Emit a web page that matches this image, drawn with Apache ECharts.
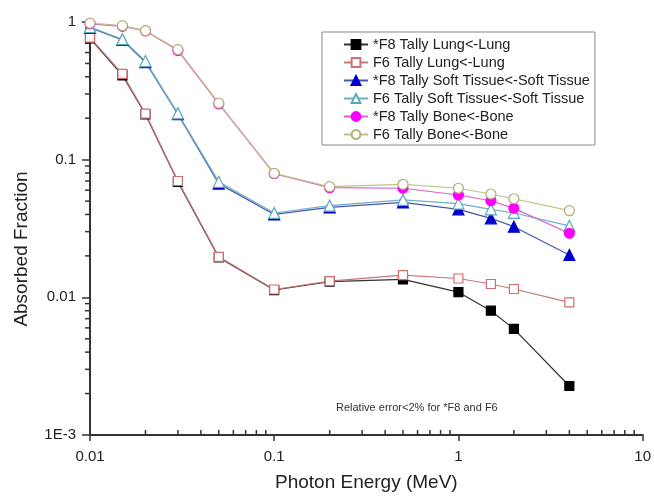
<!DOCTYPE html>
<html>
<head>
<meta charset="utf-8">
<script src="https://cdn.jsdelivr.net/npm/echarts@6/dist/echarts.min.js"></script>
<style>
  html, body { margin: 0; padding: 0; background: #fff; }
  #main { width: 654px; height: 497px; }
</style>
</head>
<body>
<div id="main"></div>
<script>
var myChart = echarts.init(document.getElementById('main'));

// photon energy (MeV)
var energy = [0.01, 0.015, 0.02, 0.03, 0.05, 0.1, 0.2, 0.5, 1, 1.5, 2, 4];

var f8Lung = [0.76, 0.41, 0.213, 0.069, 0.0195, 0.0113, 0.0130, 0.0135, 0.0109, 0.0080, 0.0059, 0.00227];
var f6Lung = [0.77, 0.42, 0.216, 0.070, 0.0197, 0.0114, 0.0131, 0.0145, 0.0137, 0.0125, 0.0115, 0.0092];
var f8Soft = [0.91, 0.74, 0.51, 0.214, 0.067, 0.040, 0.045, 0.049, 0.0436, 0.0375, 0.0326, 0.0203];
var f6Soft = [0.92, 0.75, 0.52, 0.217, 0.069, 0.041, 0.0463, 0.051, 0.048, 0.0436, 0.041, 0.033];
var f8Bone = [0.97, 0.93, 0.86, 0.62, 0.254, 0.079, 0.0626, 0.062, 0.0554, 0.0503, 0.0443, 0.0292];
var f6Bone = [0.98, 0.94, 0.865, 0.63, 0.257, 0.0796, 0.0636, 0.0662, 0.062, 0.0563, 0.052, 0.0426];

// minor tick positions (log axes)
var xMinorTicks = [0.02, 0.03, 0.04, 0.05, 0.06, 0.07, 0.08, 0.09,
                   0.2, 0.3, 0.4, 0.5, 0.6, 0.7, 0.8, 0.9,
                   2, 3, 4, 5, 6, 7, 8, 9];
var yMinorTicks = [0.002, 0.003, 0.004, 0.005, 0.006, 0.007, 0.008, 0.009,
                   0.02, 0.03, 0.04, 0.05, 0.06, 0.07, 0.08, 0.09,
                   0.2, 0.3, 0.4, 0.5, 0.6, 0.7, 0.8, 0.9];

function pairs(ys) {
  return energy.map(function (x, i) { return [x, ys[i]]; });
}

function mkSeries(name, ys, symbol, size, lineColor, fill, border) {
  return {
    name: name,
    type: 'line',
    data: pairs(ys),
    symbol: symbol,
    symbolSize: size,
    showAllSymbol: true,
    clip: false,
    lineStyle: { color: lineColor, width: 1.2 },
    itemStyle: { color: fill, borderColor: border, borderWidth: 1.2 },
    emphasis: { disabled: true }
  };
}

var option = {
  animation: false,
  textStyle: { fontFamily: 'Liberation Sans, Arial, sans-serif' },
  grid: { left: 90, right: 10, top: 22, bottom: 62 },
  legend: {
    orient: 'vertical',
    left: 322,
    top: 32,
    padding: [5, 5, 3, 21],
    itemGap: 3.0,
    itemWidth: 24,
    itemHeight: 11,
    borderColor: '#888',
    borderWidth: 1,
    textStyle: { fontSize: 14.5, color: '#222', lineHeight: 14.4 },
    data: ['*F8 Tally Lung<-Lung', 'F6 Tally Lung<-Lung',
           '*F8 Tally Soft Tissue<-Soft Tissue', 'F6 Tally Soft Tissue<-Soft Tissue',
           '*F8 Tally Bone<-Bone', 'F6 Tally Bone<-Bone']
  },
  xAxis: {
    type: 'log',
    logBase: 10,
    min: 0.01,
    max: 10,
    name: 'Photon Energy (MeV)',
    nameLocation: 'middle',
    nameGap: 38,
    nameTextStyle: { fontSize: 19, color: '#222' },
    axisLine: { lineStyle: { color: '#333', width: 2 } },
    axisTick: { length: 6, lineStyle: { color: '#333', width: 1.5 } },
    axisLabel: { fontSize: 15, color: '#222', margin: 14,
      formatter: function (v) { return String(+v.toPrecision(3)); } },
    splitLine: { show: false }
  },
  yAxis: {
    type: 'log',
    logBase: 10,
    min: 0.001,
    max: 1,
    axisLine: { lineStyle: { color: '#333', width: 2 } },
    axisTick: { length: 8, lineStyle: { color: '#333', width: 1.5 } },
    axisLabel: { fontSize: 15, color: '#222', margin: 14,
      formatter: function (v) {
        if (Math.abs(v - 0.001) < 1e-9) return '1E-3';
        return String(+v.toPrecision(3));
      } },
    splitLine: { show: false }
  },
  graphic: [
    {
      type: 'text',
      x: 22, y: 249,
      rotation: Math.PI / 2,
      style: { text: 'Absorbed Fraction', fontSize: 19, fill: '#222',
               fontFamily: 'Liberation Sans, Arial, sans-serif',
               textAlign: 'center', textVerticalAlign: 'middle' }
    },
    {
      type: 'text',
      left: 336, top: 402,
      style: { text: 'Relative error<2% for *F8 and F6', fontSize: 11, fill: '#333',
               fontFamily: 'Liberation Sans, Arial, sans-serif' }
    }
  ],
  series: [
    mkSeries('*F8 Tally Lung<-Lung', f8Lung, 'rect', 9, '#333', '#000', '#000'),
    mkSeries('F6 Tally Lung<-Lung', f6Lung, 'rect', 9, '#c87575', '#fff', '#d07070'),
    mkSeries('*F8 Tally Soft Tissue<-Soft Tissue', f8Soft, 'triangle', 11, '#4455b0', '#0000cc', '#0000cc'),
    mkSeries('F6 Tally Soft Tissue<-Soft Tissue', f6Soft, 'triangle', 11, '#6fb0be', '#fff', '#5aa8b8'),
    mkSeries('*F8 Tally Bone<-Bone', f8Bone, 'circle', 10, '#d860c8', '#ff00ff', '#ff00ff'),
    mkSeries('F6 Tally Bone<-Bone', f6Bone, 'circle', 10, '#c2c088', '#fff', '#b0ae70'),
    {
      // minor ticks on x axis (pointing inward)
      type: 'custom',
      clip: false,
      silent: true,
      data: xMinorTicks,
      renderItem: function (params, api) {
        var p = api.coord([api.value(0), 0.001]);
        return { type: 'line', shape: { x1: p[0], y1: p[1], x2: p[0], y2: p[1] - 5 },
                 style: { stroke: '#333', lineWidth: 1.5 } };
      },
      encode: { x: 0 }
    },
    {
      // minor ticks on y axis (pointing outward)
      type: 'custom',
      clip: false,
      silent: true,
      data: yMinorTicks,
      renderItem: function (params, api) {
        var p = api.coord([0.01, api.value(0)]);
        return { type: 'line', shape: { x1: p[0], y1: p[1], x2: p[0] - 5, y2: p[1] },
                 style: { stroke: '#333', lineWidth: 1.5 } };
      },
      encode: { y: 0 }
    }
  ]
};

option && myChart.setOption(option);
</script>
</body>
</html>
